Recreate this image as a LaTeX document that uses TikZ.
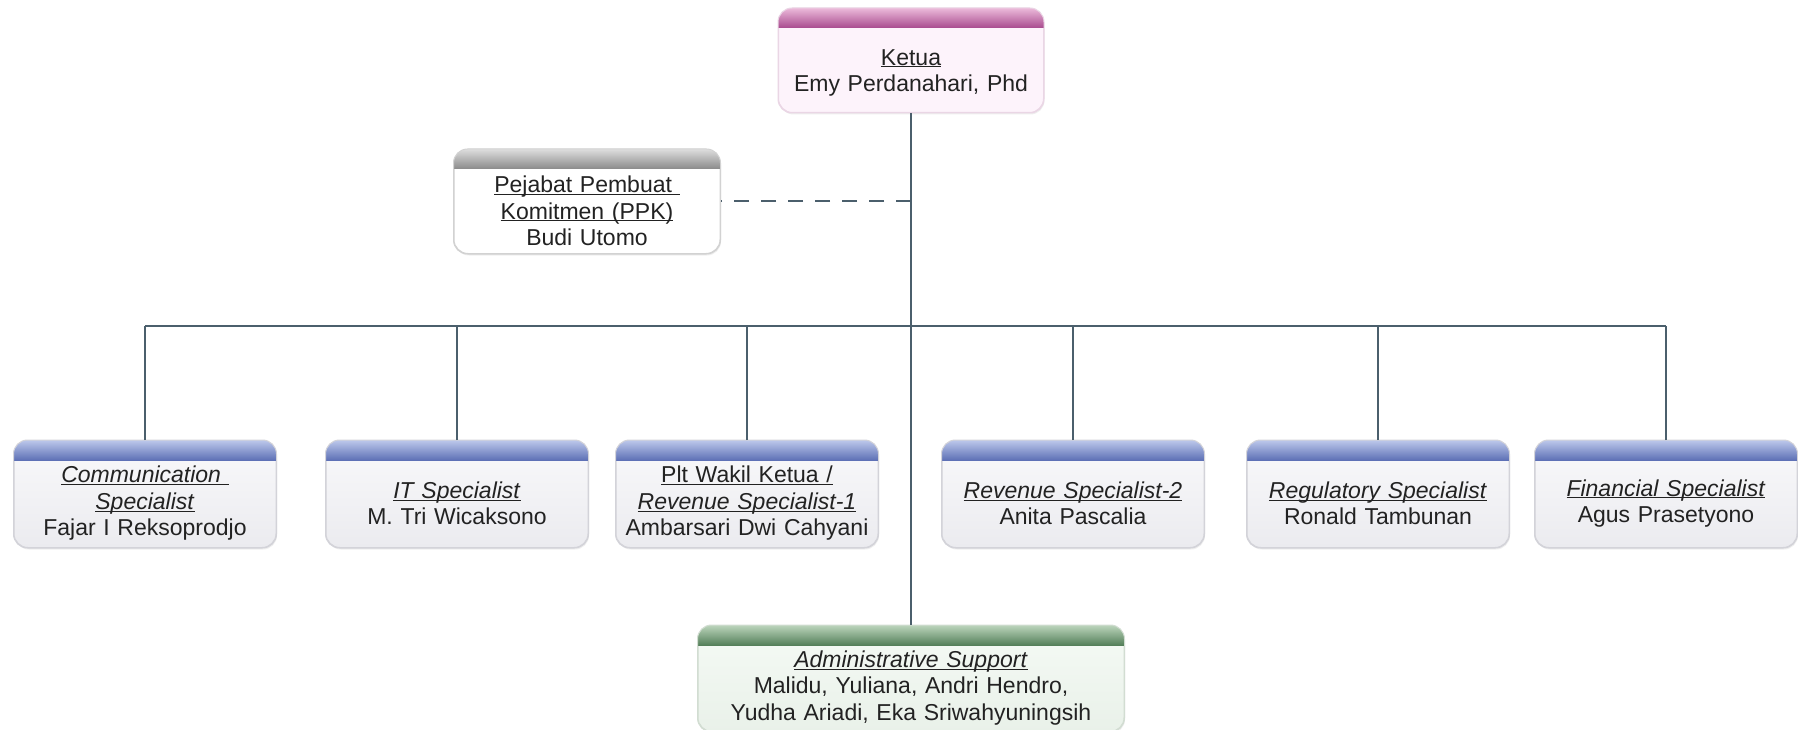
\documentclass[tikz,border=0pt]{standalone}
\usepackage{fontspec}
\setmainfont{Liberation Sans}
\usetikzlibrary{calc,shadows}

\definecolor{linecol}{HTML}{4B5F6C}
\definecolor{textcol}{HTML}{222222}
\definecolor{pinkA}{HTML}{EFC0DE}
\definecolor{pinkB}{HTML}{A84A8E}
\definecolor{pinkBody}{HTML}{FDF3FB}
\definecolor{pinkEdge}{HTML}{EAD6E5}
\definecolor{grayA}{HTML}{E2E2E2}
\definecolor{grayB}{HTML}{8A8A8A}
\definecolor{grayEdge}{HTML}{D2D2D2}
\definecolor{blueA}{HTML}{C2CDEE}
\definecolor{blueB}{HTML}{5E71B6}
\definecolor{blueBodyA}{HTML}{F9F9FB}
\definecolor{blueBodyB}{HTML}{EBEBEF}
\definecolor{blueEdge}{HTML}{D3D3D9}
\definecolor{greenA}{HTML}{C2DAC2}
\definecolor{greenB}{HTML}{55805A}
\definecolor{greenBodyA}{HTML}{F5FAF5}
\definecolor{greenBodyB}{HTML}{E9F1E9}
\definecolor{greenEdge}{HTML}{D2DDD2}

\newcommand{\ulin}[1]{\underline{\smash{#1}}\vphantom{#1}}

\tikzset{
  unitbox/.style={rounded corners=14pt, line width=1pt, inner sep=0pt,
    drop shadow={opacity=0.12, shadow xshift=1pt, shadow yshift=-2pt}},
  unitedge/.style={rounded corners=14pt, line width=1pt},
  unittext/.style={align=center, inner sep=0pt,
    font=\fontsize{23}{26.5}\selectfont, text=textcol},
  conn/.style={draw=linecol, line width=2pt},
  dashconn/.style={conn, dash pattern=on 15pt off 12pt},
  pinkhead/.style={top color=pinkA, bottom color=pinkB},
  grayhead/.style={top color=grayA, bottom color=grayB},
  bluehead/.style={top color=blueA, bottom color=blueB},
  greenhead/.style={top color=greenA, bottom color=greenB},
  pinkbody/.style={fill=pinkBody, draw=pinkEdge},
  graybody/.style={fill=white, draw=grayEdge},
  bluebody/.style={top color=blueBodyA, bottom color=blueBodyB, draw=blueEdge},
  greenbody/.style={top color=greenBodyA, bottom color=greenBodyB, draw=greenEdge},
  pinkbodyedge/.style={draw=pinkEdge},
  graybodyedge/.style={draw=grayEdge},
  bluebodyedge/.style={draw=blueEdge},
  greenbodyedge/.style={draw=greenEdge},
}

% #1 name, #2 centre x, #3 top y, #4 width, #5 height, #6 header style,
% #7 body style, #8 extra text offset, #9 text
\newcommand{\orgunit}[9]{%
  \pgfmathsetmacro{\unittw}{#4-12}%
  \node[unitbox, #7, minimum width=#4pt, minimum height=#5pt, anchor=north]
    (#1) at (#2,#3) {};
  \begin{scope}
    \clip[rounded corners=14pt] (#1.south west) rectangle (#1.north east);
    \shade[#6] ([yshift=1pt]#1.north west) rectangle ([yshift=-20pt]#1.north east);
  \end{scope}
  \draw[unitedge, #7edge] (#1.south west) rectangle (#1.north east);
  \node[unittext, text width=\unittw pt] (#1-t) at ($(#1.north)+(0,{10+#5/2+#8})$) {#9};
}

\begin{document}
\begin{tikzpicture}[x=1pt,y=-1pt]
  \fill[white] (0,0) rectangle (1798,730);
  \useasboundingbox (0,0) rectangle (1798,730);

  \coordinate (busL) at (145,326);
  \coordinate (busR) at (1666,326);

  \orgunit{ketua}{911}{8}{265}{104}{pinkhead}{pinkbody}{3}{\ulin{Ketua}\\Emy Perdanahari, Phd}
  \orgunit{ppk}{587}{149}{266}{104}{grayhead}{graybody}{0}{\ulin{Pejabat Pembuat\ }\\\ulin{Komitmen (PPK)}\\Budi Utomo}

  \orgunit{comm}{145}{440}{262}{107}{bluehead}{bluebody}{0}{\ulin{\textit{Communication\ }}\\\ulin{\textit{Specialist}}\\Fajar I Reksoprodjo}
  \orgunit{itsp}{457}{440}{262}{107}{bluehead}{bluebody}{0}{\ulin{\textit{IT Specialist}}\\M. Tri Wicaksono}
  \orgunit{plt}{747}{440}{262}{107}{bluehead}{bluebody}{0}{\ulin{Plt Wakil Ketua /}\\\ulin{\textit{Revenue Specialist-1}}\\Ambarsari Dwi Cahyani}
  \orgunit{rev}{1073}{440}{262}{107}{bluehead}{bluebody}{0}{\ulin{\textit{Revenue Specialist-2}}\\Anita Pascalia}
  \orgunit{reg}{1378}{440}{262}{107}{bluehead}{bluebody}{0}{\ulin{\textit{Regulatory Specialist}}\\Ronald Tambunan}
  \orgunit{fin}{1666}{440}{262}{107}{bluehead}{bluebody}{0}{\ulin{\textit{Financial Specialist}}\\Agus Prasetyono}

  \orgunit{admin}{911}{625}{426}{106}{greenhead}{greenbody}{0}{\ulin{\textit{Administrative Support}}\\Malidu, Yuliana, Andri Hendro,\\Yudha Ariadi, Eka Sriwahyuningsih}

  \draw[conn] (ketua.south) -- (admin.north);
  \draw[conn] (busL) -- (busR);
  \foreach \c in {comm,itsp,plt,rev,reg,fin}
    \draw[conn] (\c.north) -- (\c.north |- busL);
  \draw[dashconn] (ppk.east -| ketua.south) -- (ppk.east);
\end{tikzpicture}
\end{document}
